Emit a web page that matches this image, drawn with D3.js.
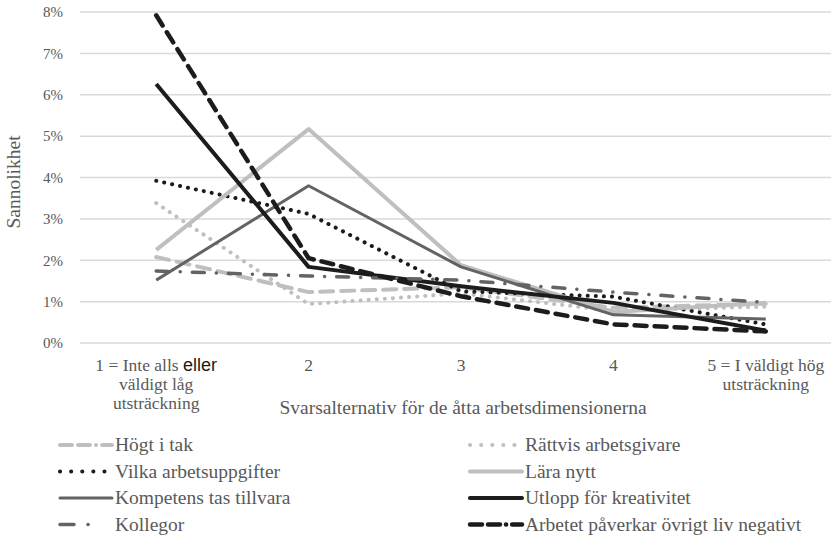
<!DOCTYPE html>
<html>
<head>
<meta charset="utf-8">
<script src="https://cdn.jsdelivr.net/npm/d3@7"></script>
<style>
    body { margin: 0; background: #fff; }
    svg { display: block; }
</style>
</head>
<body>
<div id="chart"></div>
<script>
// categories on the x axis (multi-line labels)
var categories = ["1", "2", "3", "4", "5"];
var categoryLabels = [
    ["1 = Inte alls |eller", "väldigt låg", "utsträckning"],
    ["2"],
    ["3"],
    ["4"],
    ["5 = I väldigt hög", "utsträckning"]
];
var yTicks = [0, 0.01, 0.02, 0.03, 0.04, 0.05, 0.06, 0.07, 0.08];

// series names and values (probability per answer option)
var seriesNames = [
    "Högt i tak",
    "Rättvis arbetsgivare",
    "Vilka arbetsuppgifter",
    "Lära nytt",
    "Kompetens tas tillvara",
    "Utlopp för kreativitet",
    "Kollegor",
    "Arbetet påverkar övrigt liv negativt"
];
var hogtITak = [0.0208, 0.0123, 0.0135, 0.0085, 0.0095];
var rattvis = [0.0338, 0.0094, 0.0120, 0.0078, 0.0088];
var vilka = [0.0392, 0.0312, 0.0125, 0.0112, 0.0045];
var laraNytt = [0.0225, 0.0517, 0.0188, 0.0075, 0.0097];
var kompetens = [0.0152, 0.0380, 0.0184, 0.0068, 0.0058];
var utlopp = [0.0626, 0.0184, 0.0137, 0.0097, 0.0030];
var kollegor = [0.0174, 0.0162, 0.0152, 0.0123, 0.0098];
var arbetet = [0.0792, 0.0205, 0.0113, 0.0045, 0.0028];
var seriesValues = [hogtITak, rattvis, vilka, laraNytt, kompetens, utlopp, kollegor, arbetet];

// line styles per series
var styles = [
    { color: "#bfbfbf", width: 4, dash: "13,8", cap: "round" },
    { color: "#bfbfbf", width: 4, dash: "0.1,8", cap: "round" },
    { color: "#1c1c1c", width: 4, dash: "0.1,8", cap: "round" },
    { color: "#bfbfbf", width: 4, dash: null, cap: "butt" },
    { color: "#636363", width: 3, dash: null, cap: "butt" },
    { color: "#1c1c1c", width: 4, dash: null, cap: "butt" },
    { color: "#636363", width: 3.5, dash: "12,12,0.1,12", cap: "round" },
    { color: "#1c1c1c", width: 4.5, dash: "12,8", cap: "round" }
];
// legend samples use slightly shorter patterns
var legendDash = ["12,6,12,6,0.1,6", "0.1,11", "0.1,11", null, null, null, "14,14,0.1,30", "12,6,12,6,0.1,6"];

var w = 831, h = 541;
var serif = "'Liberation Serif', 'DejaVu Serif', serif";

var svg = d3.select("#chart").append("svg")
    .attr("width", w)
    .attr("height", h);

var x = d3.scaleBand()
    .domain(categories)
    .range([80, 842]);

var y = d3.scaleLinear()
    .domain([0, 0.08])
    .range([343, 12]);

// gridlines
svg.append("g").selectAll("line")
    .data(yTicks)
    .enter().append("line")
    .attr("x1", 80)
    .attr("x2", w)
    .attr("y1", (d) => y(d))
    .attr("y2", (d) => y(d))
    .attr("stroke", "#d9d9d9")
    .attr("stroke-width", 1.5);

// y tick labels
svg.append("g").selectAll("text")
    .data(yTicks)
    .enter().append("text")
    .attr("x", 63)
    .attr("y", (d) => y(d))
    .attr("dy", ".35em")
    .attr("text-anchor", "end")
    .attr("font-family", serif)
    .attr("font-size", "15px")
    .attr("fill", "#595959")
    .text((d) => Math.round(d * 100) + "%");

// x tick labels
var xl = svg.append("g").selectAll("text")
    .data(categories)
    .enter().append("text")
    .attr("text-anchor", "middle")
    .attr("font-family", serif)
    .attr("font-size", "17.5px")
    .attr("fill", "#595959");

xl.each(function(d, i) {
    var t = d3.select(this);
    var cx = x(d) + x.bandwidth() / 2;
    categoryLabels[i].forEach(function(line, j) {
        var parts = line.split("|");
        t.append("tspan")
            .attr("x", cx)
            .attr("y", 371 + j * 19)
            .text(parts[0]);
        if (parts.length > 1) {
            t.append("tspan")
                .attr("font-family", "'Liberation Sans Narrow', 'Liberation Sans', sans-serif")
                .attr("fill", "#1a1a1a")
                .attr("font-size", "18px")
                .text(parts[1]);
        }
    });
});

// axis titles
svg.append("text")
    .attr("x", 463)
    .attr("y", 414)
    .attr("text-anchor", "middle")
    .attr("font-family", serif)
    .attr("font-size", "19.5px")
    .attr("fill", "#595959")
    .text("Svarsalternativ för de åtta arbetsdimensionerna");

svg.append("text")
    .attr("transform", "translate(20,182) rotate(-90)")
    .attr("text-anchor", "middle")
    .attr("font-family", serif)
    .attr("font-size", "19.5px")
    .attr("fill", "#595959")
    .text("Sannolikhet");

// lines
var line = d3.line()
    .x((d, i) => x(categories[i]) + x.bandwidth() / 2)
    .y((d) => y(d));

svg.append("g").selectAll("path")
    .data(seriesValues)
    .enter().append("path")
    .attr("d", (d) => line(d))
    .attr("fill", "none")
    .attr("stroke", (d, i) => styles[i].color)
    .attr("stroke-width", (d, i) => styles[i].width)
    .attr("stroke-dasharray", (d, i) => styles[i].dash)
    .attr("stroke-linecap", (d, i) => styles[i].cap)
    .attr("stroke-linejoin", "round");

// legend, two columns
var legend = svg.append("g").selectAll("g")
    .data(seriesNames)
    .enter().append("g")
    .attr("transform", function(d, i) {
        var col = i % 2, row = Math.floor(i / 2);
        return "translate(" + (col === 0 ? 60 : 470) + "," + (445 + row * 26.5) + ")";
    });

legend.append("line")
    .attr("x1", 0)
    .attr("x2", 52)
    .attr("y1", 0)
    .attr("y2", 0)
    .attr("stroke", (d, i) => styles[i].color)
    .attr("stroke-width", (d, i) => styles[i].width)
    .attr("stroke-dasharray", (d, i) => legendDash[i])
    .attr("stroke-linecap", "round");

legend.append("text")
    .attr("x", 55)
    .attr("y", 0)
    .attr("dy", ".33em")
    .attr("font-family", serif)
    .attr("font-size", "19.5px")
    .attr("fill", "#595959")
    .text((d) => d);
</script>
</body>
</html>
